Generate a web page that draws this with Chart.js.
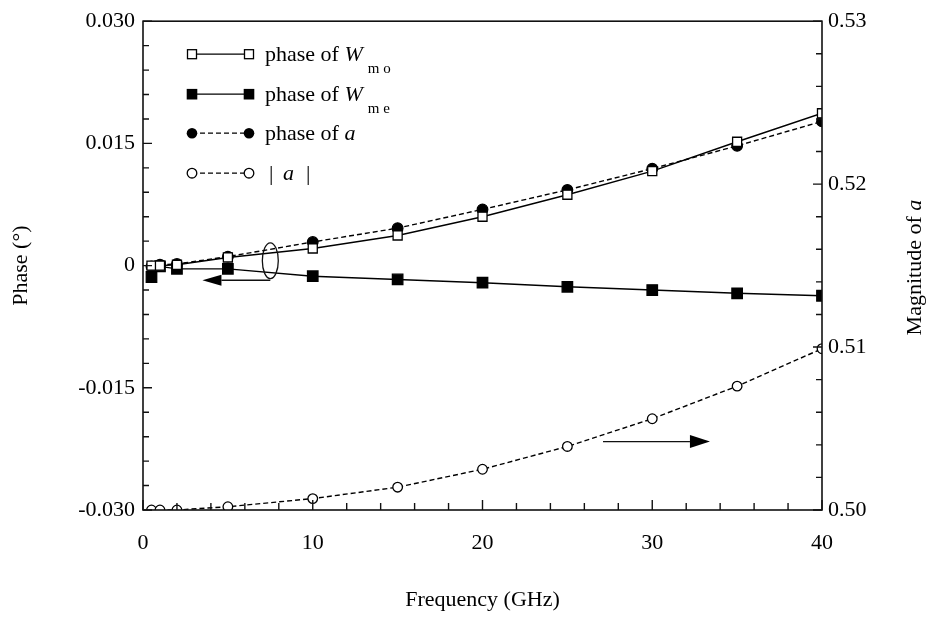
<!DOCTYPE html>
<html><head><meta charset="utf-8">
<script src="https://cdn.jsdelivr.net/npm/chart.js@4"></script>
<style>html,body{margin:0;padding:0;background:#fff}#wrap{width:937px;height:619px;position:relative}</style>
</head><body><div id="wrap"><canvas id="c" width="937" height="619"></canvas></div>
<script>
// ---- data ----
const freq     = [0.5, 1, 2, 5, 10, 15, 20, 25, 30, 35, 40];
const phaseWmo = [0.0000, 0.0000, 0.0001, 0.0010, 0.0021, 0.0037, 0.0060, 0.0087, 0.0116, 0.0152, 0.0187];
const phaseWme = [-0.0014, -0.0001, -0.0004, -0.0004, -0.0013, -0.0017, -0.0021, -0.0026, -0.0030, -0.0034, -0.0037];
const phaseA   = [-0.0001, 0.0001, 0.0002, 0.0011, 0.0029, 0.0046, 0.0069, 0.0093, 0.0119, 0.0147, 0.0177];
const magA     = [0.5000, 0.5000, 0.5000, 0.5002, 0.5007, 0.5014, 0.5025, 0.5039, 0.5056, 0.5076, 0.5099];

const xTickLabels     = ['0', '10', '20', '30', '40'];
const leftTickLabels  = ['-0.030', '-0.015', '0', '0.015', '0.030'];
const rightTickLabels = ['0.50', '0.51', '0.52', '0.53'];

const FONT = "'Liberation Serif','Times New Roman',serif";

function pickLabel(v, list) {
  for (const s of list) { if (Math.abs(parseFloat(s) - v) < 1e-7) return s; }
  return '';
}
function pts(ys) { return freq.map((f, i) => ({x: f, y: ys[i]})); }

const frameAndDecor = {
  id: 'frameAndDecor',
  afterDraw(chart) {
    const ctx = chart.ctx, a = chart.chartArea;
    const sx = chart.scales.x, sy = chart.scales.y, sr = chart.scales.y1;
    ctx.save();
    ctx.strokeStyle = '#111';
    ctx.lineWidth = 1.6;
    ctx.strokeRect(a.left, a.top, a.right - a.left, a.bottom - a.top);
    // inward tick marks
    ctx.lineWidth = 1.4;
    ctx.beginPath();
    sx.ticks.forEach(t => {
      const p = sx.getPixelForValue(t.value);
      const L = pickLabel(t.value, xTickLabels) ? 10 : 7;
      ctx.moveTo(p, a.bottom); ctx.lineTo(p, a.bottom - L);
    });
    sy.ticks.forEach(t => {
      const p = sy.getPixelForValue(t.value);
      const L = pickLabel(t.value, leftTickLabels) ? 9 : 6;
      ctx.moveTo(a.left, p); ctx.lineTo(a.left + L, p);
    });
    sr.ticks.forEach(t => {
      const p = sr.getPixelForValue(t.value);
      const L = pickLabel(t.value, rightTickLabels) ? 9 : 6;
      ctx.moveTo(a.right, p); ctx.lineTo(a.right - L, p);
    });
    ctx.stroke();

    // annotations: ellipse + arrows
    ctx.lineWidth = 1.3;
    const ex = sx.getPixelForValue(7.5), ey = sy.getPixelForValue(0.0006);
    const erx = sx.getPixelForValue(7.5 + 0.47) - ex;
    const ery = sy.getPixelForValue(0.0006) - sy.getPixelForValue(0.0028);
    ctx.beginPath(); ctx.ellipse(ex, ey, erx, ery, 0, 0, Math.PI * 2); ctx.stroke();

    function arrow(x1, x2, y, head, hw) {
      const dir = Math.sign(x2 - x1);
      ctx.beginPath(); ctx.moveTo(x1, y); ctx.lineTo(x2 - dir * head, y); ctx.stroke();
      ctx.beginPath(); ctx.moveTo(x2, y); ctx.lineTo(x2 - dir * head, y - hw); ctx.lineTo(x2 - dir * head, y + hw); ctx.closePath();
      ctx.fillStyle = '#000'; ctx.fill();
    }
    arrow(sx.getPixelForValue(7.5), sx.getPixelForValue(3.5), sy.getPixelForValue(-0.0018), 19, 5.5);
    arrow(sx.getPixelForValue(27.1), sx.getPixelForValue(33.4), sr.getPixelForValue(0.5042), 20, 6.5);

    // legend
    const lx1 = 192, lx2 = 249, tx = 265;
    const rows = [a.top + 33, a.top + 73, a.top + 112, a.top + 152];
    function marker(kind, x, y) {
      ctx.lineWidth = 1.3; ctx.strokeStyle = '#000'; ctx.fillStyle = '#000';
      if (kind === 'osq') { ctx.fillStyle = '#fff'; ctx.fillRect(x - 4.5, y - 4.5, 9, 9); ctx.strokeRect(x - 4.5, y - 4.5, 9, 9); }
      else if (kind === 'fsq') { ctx.fillRect(x - 5.3, y - 5.3, 10.6, 10.6); }
      else if (kind === 'fci') { ctx.beginPath(); ctx.arc(x, y, 5.3, 0, Math.PI * 2); ctx.fill(); }
      else { ctx.fillStyle = '#fff'; ctx.beginPath(); ctx.arc(x, y, 4.8, 0, Math.PI * 2); ctx.fill(); ctx.stroke(); }
    }
    const kinds = ['osq', 'fsq', 'fci', 'oci'];
    const dashes = [[], [], [5, 3], [5, 3]];
    rows.forEach((y, i) => {
      ctx.save();
      ctx.strokeStyle = '#000'; ctx.lineWidth = 1.3; ctx.setLineDash(dashes[i]);
      ctx.beginPath(); ctx.moveTo(lx1, y); ctx.lineTo(lx2, y); ctx.stroke();
      ctx.restore();
      marker(kinds[i], lx1, y); marker(kinds[i], lx2, y);
    });
    ctx.fillStyle = '#000'; ctx.textBaseline = 'alphabetic'; ctx.textAlign = 'left';
    const normal = '22px ' + FONT, ital = 'italic 22px ' + FONT, sub = '15px ' + FONT;
    function phaseW(y, subTxt) {
      ctx.font = normal; ctx.fillText('phase of ', tx, y + 7);
      let w = ctx.measureText('phase of ').width;
      ctx.font = ital; ctx.fillText('W', tx + w, y + 7);
      w += ctx.measureText('W').width;
      ctx.font = sub; ctx.fillText(subTxt, tx + w + 5, y + 19);
    }
    phaseW(rows[0], 'm o');
    phaseW(rows[1], 'm e');
    ctx.font = normal; ctx.fillText('phase of ', tx, rows[2] + 7);
    let w3 = ctx.measureText('phase of ').width;
    ctx.font = ital; ctx.fillText('a', tx + w3, rows[2] + 7);
    ctx.font = normal; ctx.fillText('|', tx + 4, rows[3] + 7);
    ctx.font = ital; ctx.fillText('a', tx + 18, rows[3] + 7);
    ctx.font = normal; ctx.fillText('|', tx + 41, rows[3] + 7);

    // right axis title (rotated, reads bottom to top)
    ctx.save();
    ctx.translate(915, (a.top + a.bottom) / 2 + 2);
    ctx.rotate(-Math.PI / 2);
    ctx.font = normal;
    const t1 = 'Magnitude of ';
    const w1 = ctx.measureText(t1).width;
    ctx.font = ital; const w2 = ctx.measureText('a').width;
    const start = -(w1 + w2) / 2;
    ctx.textBaseline = 'middle';
    ctx.font = normal; ctx.fillText(t1, start, 0);
    ctx.font = ital; ctx.fillText('a', start + w1, 0);
    ctx.restore();
    ctx.restore();
  }
};

const common = {borderColor: '#000', borderWidth: 1.4, tension: 0, fill: false, clip: 0,
  pointBorderColor: '#000', pointBorderWidth: 1.3, pointHoverRadius: 0};

new Chart(document.getElementById('c'), {
  type: 'line',
  data: {
    datasets: [
      Object.assign({}, common, {label: 'phase of Wmo', data: pts(phaseWmo), yAxisID: 'y',
        pointStyle: 'rect', pointRadius: 6.4, pointBackgroundColor: '#fff'}),
      Object.assign({}, common, {label: 'phase of Wme', data: pts(phaseWme), yAxisID: 'y',
        pointStyle: 'rect', pointRadius: 7.4, pointBackgroundColor: '#000'}),
      Object.assign({}, common, {label: 'phase of a', data: pts(phaseA), yAxisID: 'y', borderDash: [5, 3],
        pointStyle: 'circle', pointRadius: 5.3, pointBackgroundColor: '#000'}),
      Object.assign({}, common, {label: '|a|', data: pts(magA), yAxisID: 'y1', borderDash: [5, 3],
        pointStyle: 'circle', pointRadius: 4.8, pointBackgroundColor: '#fff'})
    ]
  },
  options: {
    responsive: false, animation: false, events: [],
    layout: {padding: {top: 17, left: 0, right: 0, bottom: 0}},
    plugins: {legend: {display: false}, tooltip: {enabled: false}},
    scales: {
      x: {
        type: 'linear', position: 'bottom', min: 0, max: 40,
        grid: {display: false, drawTicks: false}, border: {display: false},
        ticks: {stepSize: 2, maxTicksLimit: 100, autoSkip: false, maxRotation: 0, padding: 20,
          color: '#000', font: {family: FONT, size: 22},
          callback: v => pickLabel(v, xTickLabels)},
        title: {display: true, text: 'Frequency (GHz)', color: '#000', font: {family: FONT, size: 22},
          padding: {top: 0, bottom: 6}},
        afterFit: s => { s.height = 109; }
      },
      y: {
        type: 'linear', position: 'left', min: -0.03, max: 0.03,
        grid: {display: false, drawTicks: false}, border: {display: false},
        ticks: {stepSize: 0.003, maxTicksLimit: 100, autoSkip: false, padding: 8,
          color: '#000', font: {family: FONT, size: 22},
          callback: v => pickLabel(v, leftTickLabels)},
        title: {display: true, text: 'Phase (°)', color: '#000', font: {family: FONT, size: 22},
          padding: {top: 8, bottom: 0}},
        afterFit: s => { s.width = 143; }
      },
      y1: {
        type: 'linear', position: 'right', min: 0.5, max: 0.53,
        grid: {display: false, drawTicks: false}, border: {display: false},
        ticks: {stepSize: 0.002, maxTicksLimit: 100, autoSkip: false, padding: 6,
          color: '#000', font: {family: FONT, size: 22},
          callback: v => pickLabel(v, rightTickLabels)},
        afterFit: s => { s.width = 115; }
      }
    }
  },
  plugins: [frameAndDecor]
});
</script>
</body></html>
